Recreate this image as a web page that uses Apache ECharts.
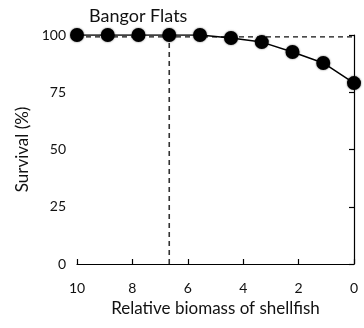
<!DOCTYPE html>
<html>
<head>
<meta charset="utf-8">
<script src="https://cdn.jsdelivr.net/npm/echarts@6/dist/echarts.min.js"></script>
<style>html,body{margin:0;padding:0;background:#fff}#c{width:364px;height:328px}</style>
</head>
<body>
<div id="c"></div>
<script>
const titleText = 'Bangor Flats';
const xName = 'Relative biomass of shellfish';
const yName = 'Survival (%)';
const biomass = [10, 8.89, 7.78, 6.67, 5.56, 4.44, 3.33, 2.22, 1.11, 0];
const survival = [100, 100, 100, 100, 100, 98.7, 96.9, 92.6, 87.8, 79.0];
const refSurvival = 99.2;
const refBiomass = 6.67;
const xTicks = [0, 2, 4, 6, 8, 10];
const yTicks = [0, 25, 50, 75, 100];

const font = 'Lato';
const chart = echarts.init(document.getElementById('c'));
chart.setOption({
  animation: false,
  backgroundColor: '#fff',
  textStyle: {fontFamily: font},
  title: {text: titleText, left: 84, top: 2,
    textStyle: {fontFamily: font, fontWeight: 'normal', fontSize: 18, color: '#111'}},
  grid: {left: 77, right: 10, top: 35, bottom: 64},
  xAxis: {
    type: 'value', inverse: true, min: 0, max: 10, interval: 2,
    name: xName, nameLocation: 'middle', nameGap: 35,
    nameTextStyle: {fontFamily: font, fontSize: 17, color: '#111'},
    axisLine: {lineStyle: {color: '#000', width: 1.2}},
    axisTick: {inside: true, length: 5, lineStyle: {color: '#000', width: 1.2}},
    axisLabel: {fontFamily: font, fontSize: 14, color: '#111', margin: 17,
      formatter: v => xTicks.includes(v) ? String(v) : ''},
    splitLine: {show: false}
  },
  yAxis: {
    type: 'value', min: 0, max: 100, interval: 25,
    name: yName, nameLocation: 'middle', nameGap: 46,
    nameTextStyle: {fontFamily: font, fontSize: 17, color: '#111'},
    axisLine: {show: true, lineStyle: {color: '#000', width: 1.2}},
    axisTick: {show: true, inside: false, length: 5, lineStyle: {color: '#000', width: 1.2}},
    axisLabel: {fontFamily: font, fontSize: 14, color: '#111', margin: 11,
      formatter: v => yTicks.includes(v) ? String(v) : ''},
    splitLine: {show: false}
  },
  series: [
    {type: 'line', data: [[biomass[0], refSurvival], [biomass[biomass.length-1], refSurvival]],
      symbol: 'none', lineStyle: {color: '#111', width: 1.3, type: [5, 4]}, z: 1},
    {type: 'line', data: [[refBiomass, 0], [refBiomass, 100]],
      symbol: 'none', lineStyle: {color: '#333', width: 1.6, type: [5, 4]}, z: 1},
    {type: 'line', data: biomass.map((b, i) => [b, survival[i]]),
      symbol: 'circle', symbolSize: 14,
      itemStyle: {color: '#000', shadowBlur: 2, shadowColor: 'rgba(0,0,0,0.6)'},
      lineStyle: {color: '#000', width: 1.5}, z: 3}
  ]
});
</script>
</body>
</html>
